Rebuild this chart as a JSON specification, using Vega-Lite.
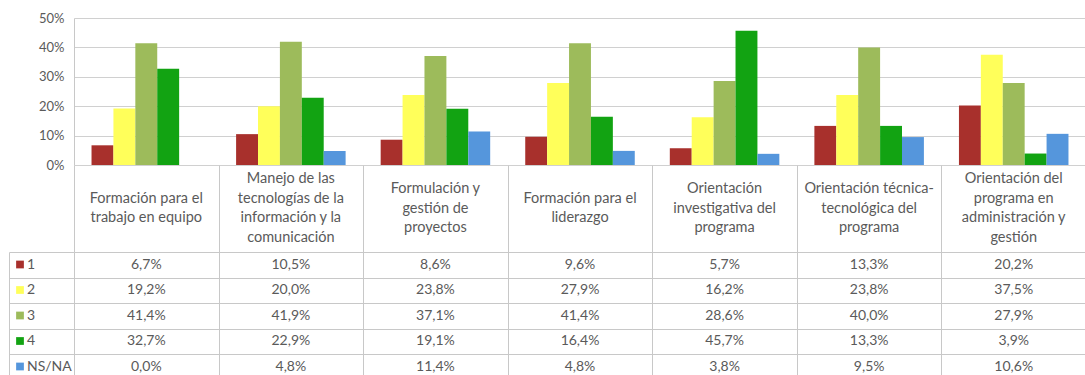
{
  "$schema": "https://vega.github.io/schema/vega-lite/v6.json",
  "padding": {"left": 8, "top": 12, "right": 0, "bottom": 0},
  "spacing": 0,
  "bounds": "flush",
  "config": {
    "locale": {"number": {"decimal": ",", "thousands": ".", "grouping": [3], "currency": ["", " €"]}},
    "font": "Lato",
    "view": {"stroke": null},
    "axis": {"labelFont": "Lato", "labelColor": "#5a5a5a", "domainColor": "#c8c8c8", "gridColor": "#d0d0d0", "tickColor": "#c8c8c8"}
  },
  "datasets": {
    "d": [
      {"cat": "Formación para el\ntrabajo en equipo", "level": "1", "value": 0.067},
      {"cat": "Formación para el\ntrabajo en equipo", "level": "2", "value": 0.192},
      {"cat": "Formación para el\ntrabajo en equipo", "level": "3", "value": 0.414},
      {"cat": "Formación para el\ntrabajo en equipo", "level": "4", "value": 0.327},
      {"cat": "Formación para el\ntrabajo en equipo", "level": "NS/NA", "value": 0.0},
      {"cat": "Manejo de las\ntecnologías de la\ninformación y la\ncomunicación", "level": "1", "value": 0.105},
      {"cat": "Manejo de las\ntecnologías de la\ninformación y la\ncomunicación", "level": "2", "value": 0.2},
      {"cat": "Manejo de las\ntecnologías de la\ninformación y la\ncomunicación", "level": "3", "value": 0.419},
      {"cat": "Manejo de las\ntecnologías de la\ninformación y la\ncomunicación", "level": "4", "value": 0.229},
      {"cat": "Manejo de las\ntecnologías de la\ninformación y la\ncomunicación", "level": "NS/NA", "value": 0.048},
      {"cat": "Formulación y\ngestión de\nproyectos", "level": "1", "value": 0.086},
      {"cat": "Formulación y\ngestión de\nproyectos", "level": "2", "value": 0.238},
      {"cat": "Formulación y\ngestión de\nproyectos", "level": "3", "value": 0.371},
      {"cat": "Formulación y\ngestión de\nproyectos", "level": "4", "value": 0.191},
      {"cat": "Formulación y\ngestión de\nproyectos", "level": "NS/NA", "value": 0.114},
      {"cat": "Formación para el\nliderazgo", "level": "1", "value": 0.096},
      {"cat": "Formación para el\nliderazgo", "level": "2", "value": 0.279},
      {"cat": "Formación para el\nliderazgo", "level": "3", "value": 0.414},
      {"cat": "Formación para el\nliderazgo", "level": "4", "value": 0.164},
      {"cat": "Formación para el\nliderazgo", "level": "NS/NA", "value": 0.048},
      {"cat": "Orientación\ninvestigativa del\nprograma", "level": "1", "value": 0.057},
      {"cat": "Orientación\ninvestigativa del\nprograma", "level": "2", "value": 0.162},
      {"cat": "Orientación\ninvestigativa del\nprograma", "level": "3", "value": 0.286},
      {"cat": "Orientación\ninvestigativa del\nprograma", "level": "4", "value": 0.457},
      {"cat": "Orientación\ninvestigativa del\nprograma", "level": "NS/NA", "value": 0.038},
      {"cat": "Orientación técnica-\ntecnológica del\nprograma", "level": "1", "value": 0.133},
      {"cat": "Orientación técnica-\ntecnológica del\nprograma", "level": "2", "value": 0.238},
      {"cat": "Orientación técnica-\ntecnológica del\nprograma", "level": "3", "value": 0.4},
      {"cat": "Orientación técnica-\ntecnológica del\nprograma", "level": "4", "value": 0.133},
      {"cat": "Orientación técnica-\ntecnológica del\nprograma", "level": "NS/NA", "value": 0.095},
      {"cat": "Orientación del\nprograma en\nadministración  y\ngestión", "level": "1", "value": 0.202},
      {"cat": "Orientación del\nprograma en\nadministración  y\ngestión", "level": "2", "value": 0.375},
      {"cat": "Orientación del\nprograma en\nadministración  y\ngestión", "level": "3", "value": 0.279},
      {"cat": "Orientación del\nprograma en\nadministración  y\ngestión", "level": "4", "value": 0.039},
      {"cat": "Orientación del\nprograma en\nadministración  y\ngestión", "level": "NS/NA", "value": 0.106}
    ]
  },
  "vconcat": [
    {
      "data": {"name": "d"},
      "width": 1012,
      "height": 147,
      "mark": {"type": "bar"},
      "encoding": {
        "x": {"field": "cat", "type": "nominal", "sort": null, "scale": {"paddingInner": 0, "paddingOuter": 0}, "axis": null},
        "xOffset": {"field": "level", "type": "nominal", "sort": null, "scale": {"paddingInner": 0, "paddingOuter": 0.8}},
        "y": {"field": "value", "type": "quantitative", "scale": {"domain": [0, 0.5], "nice": false},
              "axis": {"format": "0%", "values": [0, 0.1, 0.2, 0.3, 0.4, 0.5], "title": null, "ticks": false, "labelPadding": 10, "labelFontSize": 13}},
        "color": {"field": "level", "type": "nominal", "sort": null,
                  "scale": {"domain": ["1", "2", "3", "4", "NS/NA"], "range": ["#A8302C", "#FFFF5A", "#9DBB5B", "#12A312", "#5596DC"]},
                  "legend": {"orient": "none", "legendX": -61, "legendY": 239.5, "title": null, "symbolType": "square", "symbolSize": 60,
                             "symbolStrokeWidth": 0, "labelFontSize": 14, "labelColor": "#5a5a5a", "labelFont": "Lato", "rowPadding": 11.5, "labelOffset": 0}}
      }
    },
    {
      "data": {"name": "d"},
      "width": 1012,
      "height": 87,
      "transform": [{"filter": "datum.level === '1'"}],
      "mark": {"type": "text", "lineBreak": "\n", "lineHeight": 19.5, "fontSize": 14.5, "color": "#5a5a5a", "baseline": "middle",
               "dy": {"expr": "-(length(split(datum.cat, '\\n')) - 1) * 9.75"}},
      "encoding": {
        "x": {"field": "cat", "type": "nominal", "sort": null, "scale": {"paddingInner": 0, "paddingOuter": 0},
              "axis": {"labels": false, "ticks": false, "domain": false, "title": null, "grid": true, "tickBand": "extent", "gridColor": "#c8c8c8"}},
        "text": {"field": "cat"}
      }
    },
    {
      "data": {"name": "d"},
      "width": 1012,
      "height": 127.5,
      "mark": {"type": "text", "fontSize": 14, "color": "#5a5a5a"},
      "encoding": {
        "x": {"field": "cat", "type": "nominal", "sort": null, "scale": {"paddingInner": 0, "paddingOuter": 0},
              "axis": {"labels": false, "ticks": false, "domain": false, "title": null, "grid": true, "tickBand": "extent", "gridColor": "#c8c8c8"}},
        "y": {"field": "level", "type": "nominal", "sort": null, "scale": {"paddingInner": 0, "paddingOuter": 0},
              "axis": {"labels": false, "title": null, "grid": true, "tickBand": "extent", "gridColor": "#c8c8c8", "tickSize": -65, "offset": 65}},
        "text": {"field": "value", "type": "quantitative", "format": ".1%"}
      }
    }
  ]
}
